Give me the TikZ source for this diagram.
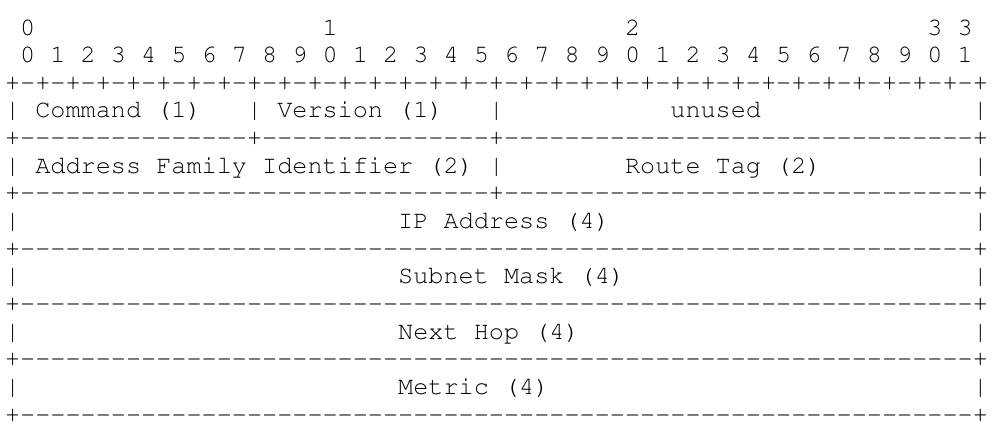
\documentclass[tikz,border=0pt]{standalone}
\usepackage[T1]{fontenc}
\usepackage{tikz}

\newcommand{\cx}[1]{5.1+15.12*#1}   % left edge of column #1
\newcommand{\ry}[1]{-35-27.65*#1}   % baseline of row #1
\newcommand{\dashes}[1]{\foreach \d in {1,...,#1}{-}}   % hyphens, no ligatures

\begin{document}
\begin{tikzpicture}[x=1pt, y=1pt, every node/.style={anchor=base west, inner sep=0pt, outer sep=0pt, font=\fontfamily{pcr}\fontsize{25.2}{27.65}\selectfont}]
\useasboundingbox (0,0) rectangle (996,-429);

% bit numbers
\node (tens0) at ({\cx{1}},{\ry{0}}) {0};
\node (tens1) at ({\cx{21}},{\ry{0}}) {1};
\node (tens2) at ({\cx{41}},{\ry{0}}) {2};
\node (tens3) at ({\cx{61}},{\ry{0}}) {3 3};
\node (bits) at ({\cx{1}},{\ry{1}}) {0 1 2 3 4 5 6 7 8 9 0 1 2 3 4 5 6 7 8 9 0 1 2 3 4 5 6 7 8 9 0 1};

% borders
\node (rule0) at ({\cx{0}},{\ry{2}}) {+-+-+-+-+-+-+-+-+-+-+-+-+-+-+-+-+-+-+-+-+-+-+-+-+-+-+-+-+-+-+-+-+};
\node (rule1) at ({\cx{0}},{\ry{4}}) {+\dashes{15}+\dashes{15}+\dashes{31}+};
\node (rule2) at ({\cx{0}},{\ry{6}}) {+\dashes{31}+\dashes{31}+};
\node (rule3) at ({\cx{0}},{\ry{8}}) {+\dashes{63}+};
\node (rule4) at ({\cx{0}},{\ry{10}}) {+\dashes{63}+};
\node (rule5) at ({\cx{0}},{\ry{12}}) {+\dashes{63}+};
\node (rule6) at ({\cx{0}},{\ry{14}}) {+\dashes{63}+};

% bars
\node (bar1a) at ({\cx{0}},{\ry{3}}) {|};
\node (bar1b) at ({\cx{16}},{\ry{3}}) {|};
\node (bar1c) at ({\cx{32}},{\ry{3}}) {|};
\node (bar1d) at ({\cx{64}},{\ry{3}}) {|};
\node (bar2a) at ({\cx{0}},{\ry{5}}) {|};
\node (bar2b) at ({\cx{32}},{\ry{5}}) {|};
\node (bar2c) at ({\cx{64}},{\ry{5}}) {|};
\node (bar3a) at ({\cx{0}},{\ry{7}}) {|};
\node (bar3b) at ({\cx{64}},{\ry{7}}) {|};
\node (bar4a) at ({\cx{0}},{\ry{9}}) {|};
\node (bar4b) at ({\cx{64}},{\ry{9}}) {|};
\node (bar5a) at ({\cx{0}},{\ry{11}}) {|};
\node (bar5b) at ({\cx{64}},{\ry{11}}) {|};
\node (bar6a) at ({\cx{0}},{\ry{13}}) {|};
\node (bar6b) at ({\cx{64}},{\ry{13}}) {|};

% fields
\node (command) at ({\cx{2}},{\ry{3}}) {Command (1)};
\node (version) at ({\cx{18}},{\ry{3}}) {Version (1)};
\node (unused) at ({\cx{44}},{\ry{3}}) {unused};
\node (afi) at ({\cx{2}},{\ry{5}}) {Address Family Identifier (2)};
\node (routetag) at ({\cx{41}},{\ry{5}}) {Route Tag (2)};
\node (ipaddr) at ({\cx{26}},{\ry{7}}) {IP Address (4)};
\node (mask) at ({\cx{26}},{\ry{9}}) {Subnet Mask (4)};
\node (nexthop) at ({\cx{26}},{\ry{11}}) {Next Hop (4)};
\node (metric) at ({\cx{26}},{\ry{13}}) {Metric (4)};
\end{tikzpicture}
\end{document}
